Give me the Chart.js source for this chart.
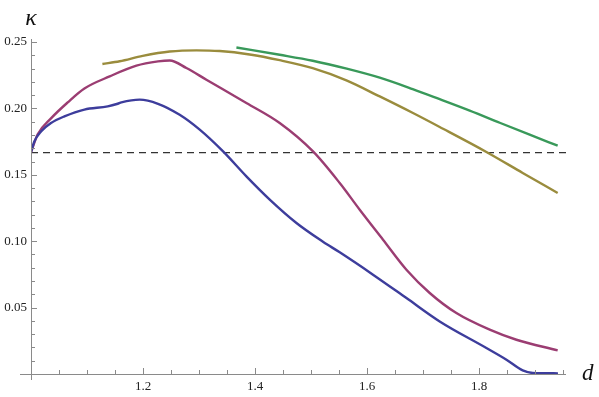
<!DOCTYPE html>
<html>
<head>
<meta charset="utf-8">
<script src="https://cdn.jsdelivr.net/npm/chart.js@4.4.1/dist/chart.umd.min.js"></script>
<style>
  html, body { margin: 0; padding: 0; background: #fff; }
  #wrap { width: 599px; height: 397px; }
</style>
</head>
<body>
<div id="wrap"><canvas id="kappa" width="599" height="397"></canvas></div>
<script>
// values (d on x, kappa on y)
const blueD = [1.0, 1.006, 1.0179, 1.0357, 1.0596, 1.0954, 1.137, 1.1548, 1.1614, 1.194, 1.2268, 1.2655, 1.3013, 1.343, 1.3846, 1.4263, 1.474, 1.5214, 1.5513, 1.6107, 1.6704, 1.7298, 1.8132, 1.849, 1.878, 1.896, 1.941];
const blueK = [0.167, 0.1751, 0.1826, 0.189, 0.194, 0.1991, 0.2015, 0.2035, 0.2045, 0.2066, 0.2035, 0.1952, 0.184, 0.1676, 0.1488, 0.1313, 0.1137, 0.0996, 0.0916, 0.0748, 0.0572, 0.0396, 0.0196, 0.0108, 0.0027, 0.0008, 0.0005];

const purpleD = [1.0, 1.012, 1.0357, 1.0655, 1.0954, 1.1405, 1.1882, 1.2268, 1.2477, 1.2775, 1.3132, 1.3846, 1.4441, 1.5036, 1.5513, 1.587, 1.6286, 1.6704, 1.712, 1.7596, 1.8191, 1.8668, 1.9405];
const purpleK = [0.167, 0.1805, 0.1925, 0.2045, 0.215, 0.2241, 0.2322, 0.2354, 0.2361, 0.2304, 0.2216, 0.2041, 0.189, 0.1676, 0.1438, 0.1237, 0.1011, 0.0785, 0.061, 0.0459, 0.0334, 0.0258, 0.0178];

const goldD = [1.1275, 1.1584, 1.1995, 1.2477, 1.2954, 1.337, 1.3905, 1.4441, 1.503, 1.5632, 1.6227, 1.6821, 1.7298, 1.8132, 1.878, 1.9405];
const goldK = [0.2334, 0.2355, 0.2395, 0.2428, 0.2437, 0.2432, 0.2406, 0.2363, 0.2303, 0.2211, 0.209, 0.1965, 0.186, 0.1672, 0.1514, 0.1363];

const greenD = [1.3668, 1.4441, 1.503, 1.5638, 1.6227, 1.6816, 1.7298, 1.7834, 1.837, 1.8905, 1.9405];
const greenK = [0.2459, 0.2404, 0.2359, 0.2299, 0.2231, 0.2145, 0.2069, 0.1983, 0.1892, 0.1802, 0.1719];

// horizontal reference at kappa = 1/6
const refD = [1.0, 1.96];
const refK = [1 / 6, 1 / 6];

const xTickLabels = ['1.2', '1.4', '1.6', '1.8'];
const yTickLabels = ['0.05', '0.10', '0.15', '0.20', '0.25'];

const serif = '"Liberation Serif", "DejaVu Serif", serif';

function pts(xs, ys) {
  return xs.map((x, i) => ({ x: x, y: ys[i] }));
}

function curve(label, xs, ys, color) {
  return {
    label: label,
    data: pts(xs, ys),
    borderColor: color,
    borderWidth: 2.4,
    pointRadius: 0,
    cubicInterpolationMode: 'monotone',
    fill: false,
  };
}

// mathematica style axes: lines through the origin, ticks pointing inward, italic axis names
const axesPlugin = {
  id: 'axes',
  afterDraw(chart) {
    const ctx = chart.ctx;
    const area = chart.chartArea;
    const xs = chart.scales.x;
    const ys = chart.scales.y;
    ctx.save();
    ctx.strokeStyle = '#8a8a8a';
    ctx.lineWidth = 1;
    ctx.beginPath();
    ctx.moveTo(area.left - 11, Math.round(area.bottom) + 0.5);
    ctx.lineTo(area.right + 3, Math.round(area.bottom) + 0.5);
    ctx.moveTo(Math.round(area.left) + 0.5, area.top - 3);
    ctx.lineTo(Math.round(area.left) + 0.5, area.bottom + 6);
    ctx.stroke();

    ctx.beginPath();
    xs.ticks.forEach((t) => {
      const v = Math.round(t.value * 100) / 100;
      if (v <= 1) return;
      const px = Math.round(xs.getPixelForValue(v)) + 0.5;
      const major = Math.abs(v * 5 - Math.round(v * 5)) < 1e-6;
      ctx.moveTo(px, area.bottom);
      ctx.lineTo(px, area.bottom - (major ? 6 : 4));
    });
    ys.ticks.forEach((t) => {
      const v = Math.round(t.value * 1000) / 1000;
      if (v <= 0) return;
      const py = Math.round(ys.getPixelForValue(v)) + 0.5;
      const major = Math.abs(v * 20 - Math.round(v * 20)) < 1e-6;
      ctx.moveTo(area.left, py);
      ctx.lineTo(area.left + (major ? 6 : 4), py);
    });
    ctx.stroke();

    ctx.fillStyle = '#111';
    ctx.font = 'italic 24px ' + serif;
    ctx.textAlign = 'center';
    ctx.textBaseline = 'alphabetic';
    ctx.fillText('κ', area.left, area.top - 17);
    ctx.font = 'italic 23px ' + serif;
    ctx.textAlign = 'left';
    ctx.fillText('d', area.right + 19, area.bottom + 6);
    ctx.restore();
  },
};

const canvas = document.querySelector('canvas#kappa');
const chart = new Chart(canvas.getContext('2d'), {
  type: 'line',
  data: {
    datasets: [
      curve('blue', blueD, blueK, '#3d3d9c'),
      curve('purple', purpleD, purpleK, '#9b3d72'),
      curve('gold', goldD, goldK, '#9a8c3d'),
      curve('green', greenD, greenK, '#39995a'),
      {
        label: 'ref',
        data: pts(refD, refK),
        borderColor: '#333',
        borderWidth: 1.2,
        borderDash: [7, 5],
        pointRadius: 0,
        fill: false,
        clip: false,
      },
    ],
  },
  options: {
    responsive: false,
    animation: false,
    events: [],
    layout: { padding: { top: 42, right: 36, left: 0, bottom: 0 } },
    plugins: { legend: { display: false }, tooltip: { enabled: false } },
    scales: {
      x: {
        type: 'linear',
        min: 1.0,
        max: 1.95,
        grid: { display: false, drawTicks: false },
        border: { display: false },
        ticks: {
          stepSize: 0.05,
          autoSkip: false,
          maxRotation: 0,
          padding: 5,
          color: '#222',
          font: { family: serif, size: 13 },
          callback: (v) => {
            const s = (Math.round(v * 100) / 100).toFixed(1);
            return (Math.abs(v * 5 - Math.round(v * 5)) < 1e-6 && xTickLabels.includes(s)) ? s : '';
          },
        },
        afterFit: (scale) => { scale.height = 23; },
      },
      y: {
        type: 'linear',
        min: 0,
        max: 0.25,
        grid: { display: false, drawTicks: false },
        border: { display: false },
        ticks: {
          stepSize: 0.01,
          autoSkip: false,
          padding: 4,
          color: '#222',
          font: { family: serif, size: 13 },
          callback: (v) => {
            const s = (Math.round(v * 1000) / 1000).toFixed(2);
            return (Math.abs(v * 20 - Math.round(v * 20)) < 1e-6 && yTickLabels.includes(s)) ? s : '';
          },
        },
        afterFit: (scale) => { scale.width = 31; },
      },
    },
  },
  plugins: [axesPlugin],
});
</script>
</body>
</html>
